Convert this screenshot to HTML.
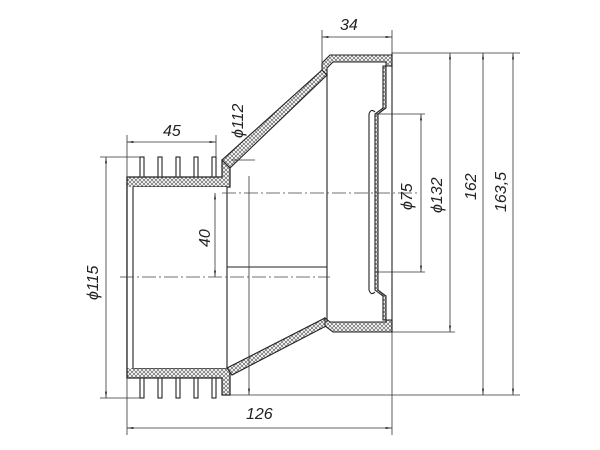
<!DOCTYPE html>
<html><head><meta charset="utf-8"><style>
html,body{margin:0;padding:0;background:#fff}
svg{display:block}
text{font-family:"Liberation Sans",sans-serif;font-style:italic;font-size:16px;fill:#222}
</style></head><body>
<svg width="600" height="450" viewBox="0 0 600 450" xmlns="http://www.w3.org/2000/svg">
<defs>
<pattern id="h" width="4" height="4" patternUnits="userSpaceOnUse">
<rect width="4" height="4" fill="#fff"/>
<path d="M0,0L4,4M4,0L0,4" stroke="#666" stroke-width="0.7"/>
</pattern>
<marker id="a" viewBox="0 0 10 10" refX="10" refY="5" markerWidth="8" markerHeight="8" orient="auto-start-reverse"><path d="M0,3.5L10,5L0,6.5z" fill="#222"/></marker>
</defs>
<g stroke="#222" stroke-width="1.1" fill="none">
<path d="M127,177H222V160H230V187H133V368H230V395H222V378H127Z" fill="url(#h)" stroke-width="1.2"/>
<rect x="127.6" y="187" width="99" height="181" fill="#fff" stroke="none"/>
<line x1="133" y1="187" x2="133" y2="368"/>
<line x1="227" y1="187" x2="227" y2="368"/>
<line x1="127" y1="177" x2="127" y2="378" stroke-width="1.2"/>
<g fill="#fff">
<rect x="140" y="157" width="4" height="20"/><rect x="158" y="157" width="4" height="20"/><rect x="176" y="157" width="4" height="20"/><rect x="194" y="157" width="4" height="20"/><rect x="212" y="157" width="4" height="20"/>
<rect x="140" y="378" width="4" height="20"/><rect x="158" y="378" width="4" height="20"/><rect x="176" y="378" width="4" height="20"/><rect x="194" y="378" width="4" height="20"/><rect x="212" y="378" width="4" height="20"/>
</g>
<path d="M222,160L322,70L327,75L230,168Z" fill="url(#h)"/>
<path d="M227,368L325,318L330,324L232,375Z" fill="url(#h)"/>
<path d="M322,70V63L330,55H392V66H386V62H333L327,68V75Z" fill="url(#h)"/>
<path d="M325,318L330,322H386V320H392V332H333L325,326Z" fill="url(#h)"/>
<line x1="327" y1="70" x2="327" y2="322"/>
<path d="M383,66V108L375,114V290L383,296V320H386V296L378,290V114L386,108V66Z" fill="url(#h)"/>
<line x1="369" y1="114" x2="369" y2="290"/>
<path d="M369,114Q371,108 375,112M369,290Q371,296 375,292"/>
<line x1="392" y1="53" x2="392" y2="332"/>
<line x1="227" y1="267" x2="327" y2="267"/>
</g>
<g stroke="#444" stroke-width="0.8" stroke-dasharray="14,3,2,3">
<line x1="222" y1="193" x2="420" y2="193"/>
<line x1="120" y1="277" x2="330" y2="277"/>
</g>
<g stroke="#333" stroke-width="0.8" fill="none">
<line x1="322" y1="30" x2="322" y2="62"/><line x1="392" y1="30" x2="392" y2="53"/>
<line x1="322" y1="37" x2="392" y2="37" marker-start="url(#a)" marker-end="url(#a)"/>
<line x1="127" y1="135" x2="127" y2="177"/><line x1="216" y1="135" x2="216" y2="157"/>
<line x1="127" y1="142" x2="216" y2="142" marker-start="url(#a)" marker-end="url(#a)"/>
<line x1="100" y1="157" x2="140" y2="157"/><line x1="100" y1="398" x2="140" y2="398"/>
<line x1="106" y1="157" x2="106" y2="398" marker-start="url(#a)" marker-end="url(#a)"/>
<line x1="232" y1="160" x2="255" y2="160"/>
<line x1="249" y1="176" x2="249" y2="395" marker-end="url(#a)"/>
<line x1="215" y1="193" x2="215" y2="277" marker-start="url(#a)" marker-end="url(#a)"/>
<line x1="230" y1="395" x2="520" y2="395"/>
<line x1="392" y1="332" x2="455" y2="332"/>
<line x1="392" y1="53" x2="520" y2="53"/>
<line x1="375" y1="114" x2="425" y2="114"/>
<line x1="375" y1="272" x2="425" y2="272"/>
<line x1="421" y1="114" x2="421" y2="272" marker-start="url(#a)" marker-end="url(#a)"/>
<line x1="450" y1="53" x2="450" y2="332" marker-start="url(#a)" marker-end="url(#a)"/>
<line x1="483" y1="53" x2="483" y2="395" marker-start="url(#a)" marker-end="url(#a)"/>
<line x1="513" y1="53" x2="513" y2="395" marker-start="url(#a)" marker-end="url(#a)"/>
<line x1="127" y1="378" x2="127" y2="435"/><line x1="392" y1="332" x2="392" y2="435"/>
<line x1="127" y1="428" x2="392" y2="428" marker-start="url(#a)" marker-end="url(#a)"/>
</g>
<text x="340" y="30">34</text>
<text x="163" y="136">45</text>
<text x="246" y="419">126</text>
<text transform="translate(243,138) rotate(-90)">ϕ112</text>
<text transform="translate(210,247) rotate(-90)">40</text>
<text transform="translate(98,300) rotate(-90)">ϕ115</text>
<text transform="translate(412,210) rotate(-90)">ϕ75</text>
<text transform="translate(442,213) rotate(-90)">ϕ132</text>
<text transform="translate(476,200) rotate(-90)">162</text>
<text transform="translate(506,212) rotate(-90)">163,5</text>
</svg>
</body></html>
